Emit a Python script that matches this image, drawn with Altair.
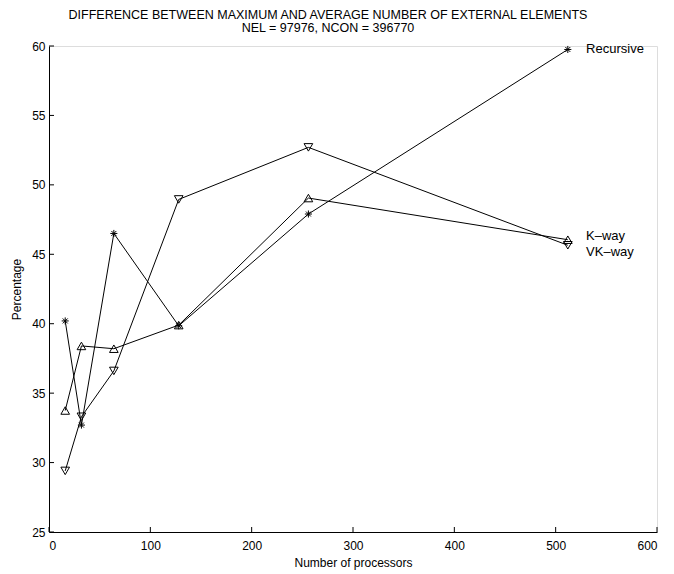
import altair as alt
import pandas as pd

procs = [16, 32, 64, 128, 256, 512]
recursive = [40.2, 32.7, 46.5, 39.85, 47.9, 59.75]
kway = [33.75, 38.4, 38.2, 39.9, 49.05, 46.05]
vkway = [29.4, 33.3, 36.6, 48.95, 52.7, 45.65]

series_names = ["Recursive", "K\u2013way", "VK\u2013way"]
label_x = [530, 530, 530]
label_y = [59.75, 46.3, 45.15]

x_ticks = [0, 100, 200, 300, 400, 500, 600]
y_ticks = [25, 30, 35, 40, 45, 50, 55, 60]

FONT = "Liberation Sans"
W, H = 608, 486

rows = []
for name, vals in zip(series_names, [recursive, kway, vkway]):
    for p, v in zip(procs, vals):
        rows.append({"series": name, "procs": p, "value": v})
df = pd.DataFrame(rows)
labels_df = pd.DataFrame({"series": series_names, "x": label_x, "y": label_y})
xt_df = pd.DataFrame({"t": x_ticks})
yt_df = pd.DataFrame({"t": y_ticks})

xscale = alt.Scale(domain=[0, 600], nice=False, zero=False)
yscale = alt.Scale(domain=[25, 60], nice=False, zero=False)

xaxis = alt.Axis(values=x_ticks, grid=False, tickSize=0, labelPadding=8,
                 domainColor="black", domainWidth=1, labelFont=FONT, labelFontSize=12,
                 labelColor="black", title="Number of processors", titleFont=FONT,
                 titleFontSize=12, titleFontWeight="normal", titleColor="black",
                 titlePadding=6)
yaxis = alt.Axis(values=y_ticks, grid=False, tickSize=0, labelPadding=4,
                 domainColor="black", domainWidth=1, labelFont=FONT, labelFontSize=12,
                 labelColor="black", title="Percentage", titleFont=FONT,
                 titleFontSize=12, titleFontWeight="normal", titleColor="black",
                 titlePadding=8)

base = alt.Chart(df)

lines = base.mark_line(color="black", strokeWidth=1).encode(
    x=alt.X("procs:Q", scale=xscale, axis=xaxis),
    y=alt.Y("value:Q", scale=yscale, axis=yaxis),
    detail="series:N",
)

asterisk = "M-1,0L1,0M0,-1L0,1M-0.7,-0.7L0.7,0.7M-0.7,0.7L0.7,-0.7"

def pts(name, shape, size):
    return base.transform_filter(alt.datum.series == name).mark_point(
        shape=shape, size=size, filled=False, color="black", strokeWidth=1, opacity=1
    ).encode(x=alt.X("procs:Q", scale=xscale), y=alt.Y("value:Q", scale=yscale))

p1 = pts(series_names[0], asterisk, 50)
p2 = pts(series_names[1], "triangle-up", 75)
p3 = pts(series_names[2], "triangle-down", 75)

labels = alt.Chart(labels_df).mark_text(
    align="left", baseline="middle", font=FONT, fontSize=13, color="black"
).encode(x=alt.X("x:Q", scale=xscale), y=alt.Y("y:Q", scale=yscale), text="series:N")

xticks = alt.Chart(xt_df).mark_rule(color="black", strokeWidth=1).encode(
    x=alt.X("t:Q", scale=xscale), y=alt.value(H), y2=alt.value(H - 5)
)
yticks = alt.Chart(yt_df).mark_rule(color="black", strokeWidth=1).encode(
    y=alt.Y("t:Q", scale=yscale), x=alt.value(0), x2=alt.value(5)
)

chart = alt.layer(xticks, yticks, lines, p1, p2, p3, labels).properties(
    width=W, height=H,
    title=alt.TitleParams(
        text=["DIFFERENCE BETWEEN MAXIMUM AND AVERAGE NUMBER OF EXTERNAL ELEMENTS",
              "NEL = 97976, NCON = 396770"],
        font=FONT, fontSize=12.5, fontWeight="normal", color="black",
        anchor="middle", offset=6, lineHeight=13, dx=-25,
    ),
    autosize=alt.AutoSizeParams(type="none"),
    padding={"left": 49, "top": 46, "right": 17, "bottom": 42},
).configure_view(stroke=None).configure(background="white")

chart.save("out.html", embed_options={"renderer": "svg", "actions": False})
